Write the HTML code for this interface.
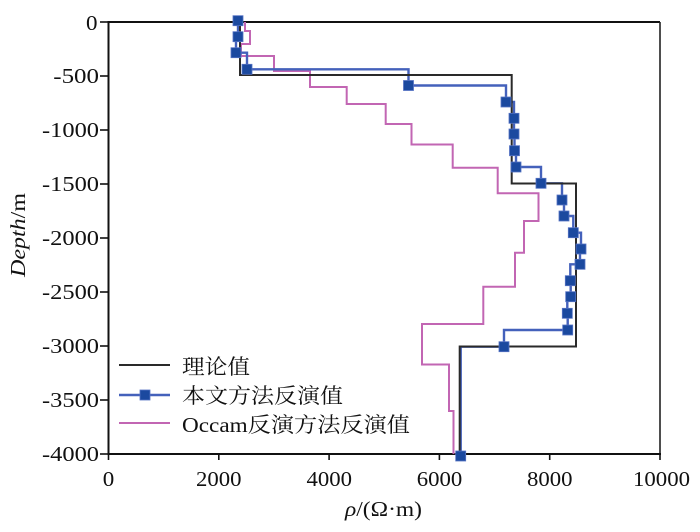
<!DOCTYPE html>
<html>
<head>
<meta charset="utf-8">
<style>
  html, body { margin: 0; padding: 0; background: #ffffff; }
  svg { display: block; }
  .tk { font-family: "Liberation Serif", "Times New Roman", serif; font-size: 21px; fill: #111; }
  .lg { font-family: "Liberation Serif", "Noto Serif CJK SC", serif; font-size: 21px; fill: #111; }
</style>
</head>
<body>
<svg width="700" height="532" viewBox="0 0 700 532" xmlns="http://www.w3.org/2000/svg">
  <rect x="0" y="0" width="700" height="532" fill="#ffffff"/>

  <!-- frame -->
  <line x1="108.5" y1="22" x2="660" y2="22" stroke="#111" stroke-width="2"/>
  <line x1="660" y1="22" x2="660" y2="454" stroke="#222" stroke-width="1.6"/>
  <line x1="108.5" y1="21" x2="108.5" y2="455" stroke="#111" stroke-width="2"/>
  <line x1="107.5" y1="454" x2="661" y2="454" stroke="#111" stroke-width="2"/>

  <!-- y ticks -->
  <g stroke="#111" stroke-width="1.6">
    <line x1="100" y1="22" x2="108.5" y2="22"/>
    <line x1="100" y1="76" x2="108.5" y2="76"/>
    <line x1="100" y1="130" x2="108.5" y2="130"/>
    <line x1="100" y1="184" x2="108.5" y2="184"/>
    <line x1="100" y1="238" x2="108.5" y2="238"/>
    <line x1="100" y1="292" x2="108.5" y2="292"/>
    <line x1="100" y1="346" x2="108.5" y2="346"/>
    <line x1="100" y1="400" x2="108.5" y2="400"/>
    <line x1="100" y1="454" x2="108.5" y2="454"/>
  </g>
  <!-- x ticks -->
  <g stroke="#111" stroke-width="1.6">
    <line x1="108.5" y1="454" x2="108.5" y2="460"/>
    <line x1="218.8" y1="454" x2="218.8" y2="460"/>
    <line x1="329.1" y1="454" x2="329.1" y2="460"/>
    <line x1="439.4" y1="454" x2="439.4" y2="460"/>
    <line x1="549.7" y1="454" x2="549.7" y2="460"/>
    <line x1="660" y1="454" x2="660" y2="460"/>
  </g>

  <!-- y tick labels -->
  <text class="tk" x="86" y="30" textLength="11.5" lengthAdjust="spacingAndGlyphs">0</text>
  <text class="tk" x="53.3" y="83" textLength="45.7" lengthAdjust="spacingAndGlyphs">-500</text>
  <text class="tk" x="42" y="137" textLength="57" lengthAdjust="spacingAndGlyphs">-1000</text>
  <text class="tk" x="42" y="191" textLength="57" lengthAdjust="spacingAndGlyphs">-1500</text>
  <text class="tk" x="42" y="245" textLength="57" lengthAdjust="spacingAndGlyphs">-2000</text>
  <text class="tk" x="42" y="299" textLength="57" lengthAdjust="spacingAndGlyphs">-2500</text>
  <text class="tk" x="42" y="353" textLength="57" lengthAdjust="spacingAndGlyphs">-3000</text>
  <text class="tk" x="42" y="407" textLength="57" lengthAdjust="spacingAndGlyphs">-3500</text>
  <text class="tk" x="42" y="461" textLength="57" lengthAdjust="spacingAndGlyphs">-4000</text>

  <!-- x tick labels -->
  <text class="tk" x="102.8" y="486" textLength="11.5" lengthAdjust="spacingAndGlyphs">0</text>
  <text class="tk" x="196" y="486" textLength="45.5" lengthAdjust="spacingAndGlyphs">2000</text>
  <text class="tk" x="306.5" y="486" textLength="45.5" lengthAdjust="spacingAndGlyphs">4000</text>
  <text class="tk" x="416.8" y="486" textLength="45.5" lengthAdjust="spacingAndGlyphs">6000</text>
  <text class="tk" x="527" y="486" textLength="45.5" lengthAdjust="spacingAndGlyphs">8000</text>
  <text class="tk" x="633" y="486" textLength="57" lengthAdjust="spacingAndGlyphs">10000</text>

  <!-- axis titles -->
  <text class="tk" x="345" y="516" font-size="21" textLength="77" lengthAdjust="spacingAndGlyphs"><tspan font-style="italic">ρ</tspan>/(Ω·m)</text>
  <text class="tk" font-size="21" transform="translate(25,277) rotate(-90)" x="0" y="0" textLength="84" lengthAdjust="spacingAndGlyphs"><tspan font-style="italic">Depth</tspan>/m</text>

  <!-- Occam (pink) -->
  <path d="M245,22 V31 H250 V44 H241 V56 H274 V71 H310 V87 H346.7 V104 H385.7 V124 H411.5 V144.5 H452.7 V167.7 H497.7 V193.3 H538.5 V221 H524 V252.7 H515 V286.7 H483.3 V324 H422 V364.5 H449 V411 H453.5 V454"
        fill="none" stroke="#c266b3" stroke-width="2"/>

  <!-- proposed method (blue) line -->
  <path d="M238,20.7 V36.7 H236 V52.7 H247 V69.3 H408.5 V85.5 H506 V102 H514 V118.3 H514 V134 H514.5 V150.7 H516 V167 H541 V183.3 H562 V200 H564 V216 H573.3 V232.7 H581 V249 H580 V264.3 H570.3 V280.7 H570.7 V296.7 H567.3 V313.3 H567.7 V330 H504 V346.7 H460.7 V456"
        fill="none" stroke="#4461bb" stroke-width="2.4"/>

  <!-- theoretical (black) -->
  <path d="M240,22 V75 H511.7 V183.5 H576 V346.5 H459.7 V454"
        fill="none" stroke="#2a2a2a" stroke-width="2"/>

  <!-- markers -->
  <g fill="#1b499f" stroke="#5673c4" stroke-width="0.8">
    <rect x="233" y="15.7" width="10" height="10"/>
    <rect x="233" y="31.7" width="10" height="10"/>
    <rect x="231" y="47.7" width="10" height="10"/>
    <rect x="242" y="64.3" width="10" height="10"/>
    <rect x="403.5" y="80.5" width="10" height="10"/>
    <rect x="501" y="97" width="10" height="10"/>
    <rect x="509" y="113.3" width="10" height="10"/>
    <rect x="509" y="129" width="10" height="10"/>
    <rect x="509.5" y="145.7" width="10" height="10"/>
    <rect x="511" y="162" width="10" height="10"/>
    <rect x="536" y="178.3" width="10" height="10"/>
    <rect x="557" y="195" width="10" height="10"/>
    <rect x="559" y="211" width="10" height="10"/>
    <rect x="568.3" y="227.7" width="10" height="10"/>
    <rect x="576" y="244" width="10" height="10"/>
    <rect x="575" y="259.3" width="10" height="10"/>
    <rect x="565.3" y="275.7" width="10" height="10"/>
    <rect x="565.7" y="291.7" width="10" height="10"/>
    <rect x="562.3" y="308.3" width="10" height="10"/>
    <rect x="562.7" y="325" width="10" height="10"/>
    <rect x="499" y="341.7" width="10" height="10"/>
    <rect x="455.7" y="451" width="10" height="10"/>
  </g>

  <!-- legend -->
  <line x1="119" y1="365" x2="170" y2="365" stroke="#2a2a2a" stroke-width="2"/>
  <line x1="119" y1="395" x2="170" y2="395" stroke="#4461bb" stroke-width="2.4"/>
  <rect x="140" y="390" width="10" height="10" fill="#1b499f" stroke="#5673c4" stroke-width="0.8"/>
  <line x1="119" y1="423" x2="170" y2="423" stroke="#c266b3" stroke-width="2"/>

  <text class="lg" x="182" y="374" textLength="68" lengthAdjust="spacingAndGlyphs">理论值</text>
  <text class="lg" x="182" y="403" textLength="161" lengthAdjust="spacingAndGlyphs">本文方法反演值</text>
  <text class="lg" x="182" y="432" textLength="228" lengthAdjust="spacingAndGlyphs">Occam反演方法反演值</text>
</svg>
</body>
</html>
